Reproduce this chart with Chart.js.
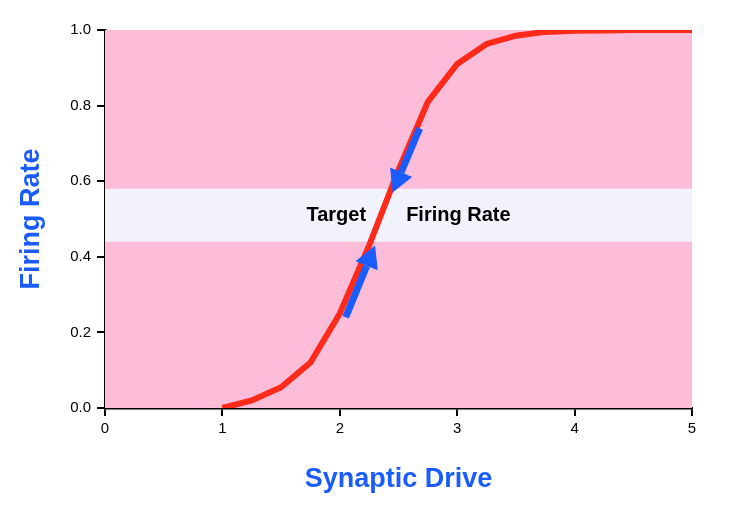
<!DOCTYPE html>
<html>
<head>
<script src="https://cdn.jsdelivr.net/npm/chart.js@4"></script>
<style>body{margin:0;background:#fff}</style>
</head>
<body>
<canvas id="chart" width="750" height="506"></canvas>
<script>
var driveValues = [1, 1.25, 1.5, 1.75, 2, 2.25, 2.5, 2.75, 3, 3.25, 3.5, 3.75, 4, 4.25, 4.5, 4.75, 5];
var rateValues = [0, 0.02, 0.055, 0.12, 0.25, 0.43, 0.63, 0.81, 0.91, 0.963, 0.985, 0.995, 0.998, 0.999, 1, 1, 1];
var xTicks = [0, 1, 2, 3, 4, 5];
var yTicks = [0, 0.2, 0.4, 0.6, 0.8, 1.0];
var targetBand = [0.44, 0.58];
// arrows: [fromX, fromY, toX, toY]
var arrows = [[2.05, 0.24, 2.3, 0.43], [2.68, 0.74, 2.45, 0.57]];
var FONT = 'Helvetica, Arial, sans-serif';

var backdrop = {
    id: 'backdrop',
    beforeDatasetsDraw: function(chart) {
        var c = chart.ctx, x = chart.scales.x, y = chart.scales.y;
        c.save();
        c.fillStyle = '#fdbdd8';
        c.fillRect(x.getPixelForValue(0), y.getPixelForValue(1), x.getPixelForValue(5) - x.getPixelForValue(0), y.getPixelForValue(0) - y.getPixelForValue(1));
        c.fillStyle = '#f1f2fb';
        c.fillRect(x.getPixelForValue(0), y.getPixelForValue(targetBand[1]), x.getPixelForValue(5) - x.getPixelForValue(0), y.getPixelForValue(targetBand[0]) - y.getPixelForValue(targetBand[1]));
        c.restore();
    },
    afterDatasetsDraw: function(chart) {
        var c = chart.ctx, x = chart.scales.x, y = chart.scales.y;
        c.save();
        c.font = 'bold 20px ' + FONT;
        c.fillStyle = '#000';
        c.textBaseline = 'middle';
        c.textAlign = 'center';
        c.fillText('Target', x.getPixelForValue(1.97), y.getPixelForValue(0.51));
        c.fillText('Firing Rate', x.getPixelForValue(3.01), y.getPixelForValue(0.51));
        arrows.forEach(function(a) {
            var x1 = x.getPixelForValue(a[0]), y1 = y.getPixelForValue(a[1]);
            var x2 = x.getPixelForValue(a[2]), y2 = y.getPixelForValue(a[3]);
            var ang = Math.atan2(y2 - y1, x2 - x1);
            var hx = x2 - 22 * Math.cos(ang), hy = y2 - 22 * Math.sin(ang);
            c.strokeStyle = '#1a5cff';
            c.fillStyle = '#1a5cff';
            c.lineWidth = 7;
            c.beginPath(); c.moveTo(x1, y1); c.lineTo(hx, hy); c.stroke();
            c.beginPath();
            c.moveTo(x2, y2);
            c.lineTo(hx + 12 * Math.sin(ang), hy - 12 * Math.cos(ang));
            c.lineTo(hx - 12 * Math.sin(ang), hy + 12 * Math.cos(ang));
            c.closePath(); c.fill();
        });
        // axis titles
        c.font = 'bold 27px ' + FONT;
        c.fillText('Synaptic Drive', (chart.chartArea.left + chart.chartArea.right) / 2, 480);
        c.translate(32, (chart.chartArea.top + chart.chartArea.bottom) / 2);
        c.rotate(-Math.PI / 2);
        c.fillText('Firing Rate', 0, 0);
        c.restore();
    }
};

var ctx = document.getElementById('chart').getContext('2d');
new Chart(ctx, {
    type: 'line',
    data: {
        datasets: [{
            data: driveValues.map(function(v, i) { return {x: v, y: rateValues[i]}; }),
            borderColor: '#ff2a1a',
            borderWidth: 6,
            pointRadius: 0,
            tension: 0
        }]
    },
    options: {
        responsive: false,
        animation: false,
        layout: {padding: {top: 30, right: 58, left: 0, bottom: 0}},
        plugins: {legend: {display: false}, tooltip: {enabled: false}},
        scales: {
            x: {
                type: 'linear', min: 0, max: 5,
                afterFit: function(s) { s.height = 98; },
                afterBuildTicks: function(s) { s.ticks = xTicks.map(function(v) { return {value: v}; }); },
                border: {color: '#000', width: 2.5},
                grid: {drawOnChartArea: false, color: '#000', lineWidth: 2, tickLength: 8},
                ticks: {color: '#000', font: {size: 15, family: FONT}, padding: 4}
            },
            y: {
                type: 'linear', min: 0, max: 1,
                afterFit: function(s) { s.width = 105; },
                afterBuildTicks: function(s) { s.ticks = yTicks.map(function(v) { return {value: v}; }); },
                border: {color: '#000', width: 2.5},
                grid: {drawOnChartArea: false, color: '#000', lineWidth: 2, tickLength: 8},
                ticks: {color: '#000', font: {size: 15, family: FONT}, padding: 6, callback: function(v) { return v.toFixed(1); }}
            }
        }
    },
    plugins: [backdrop]
});
</script>
</body>
</html>
